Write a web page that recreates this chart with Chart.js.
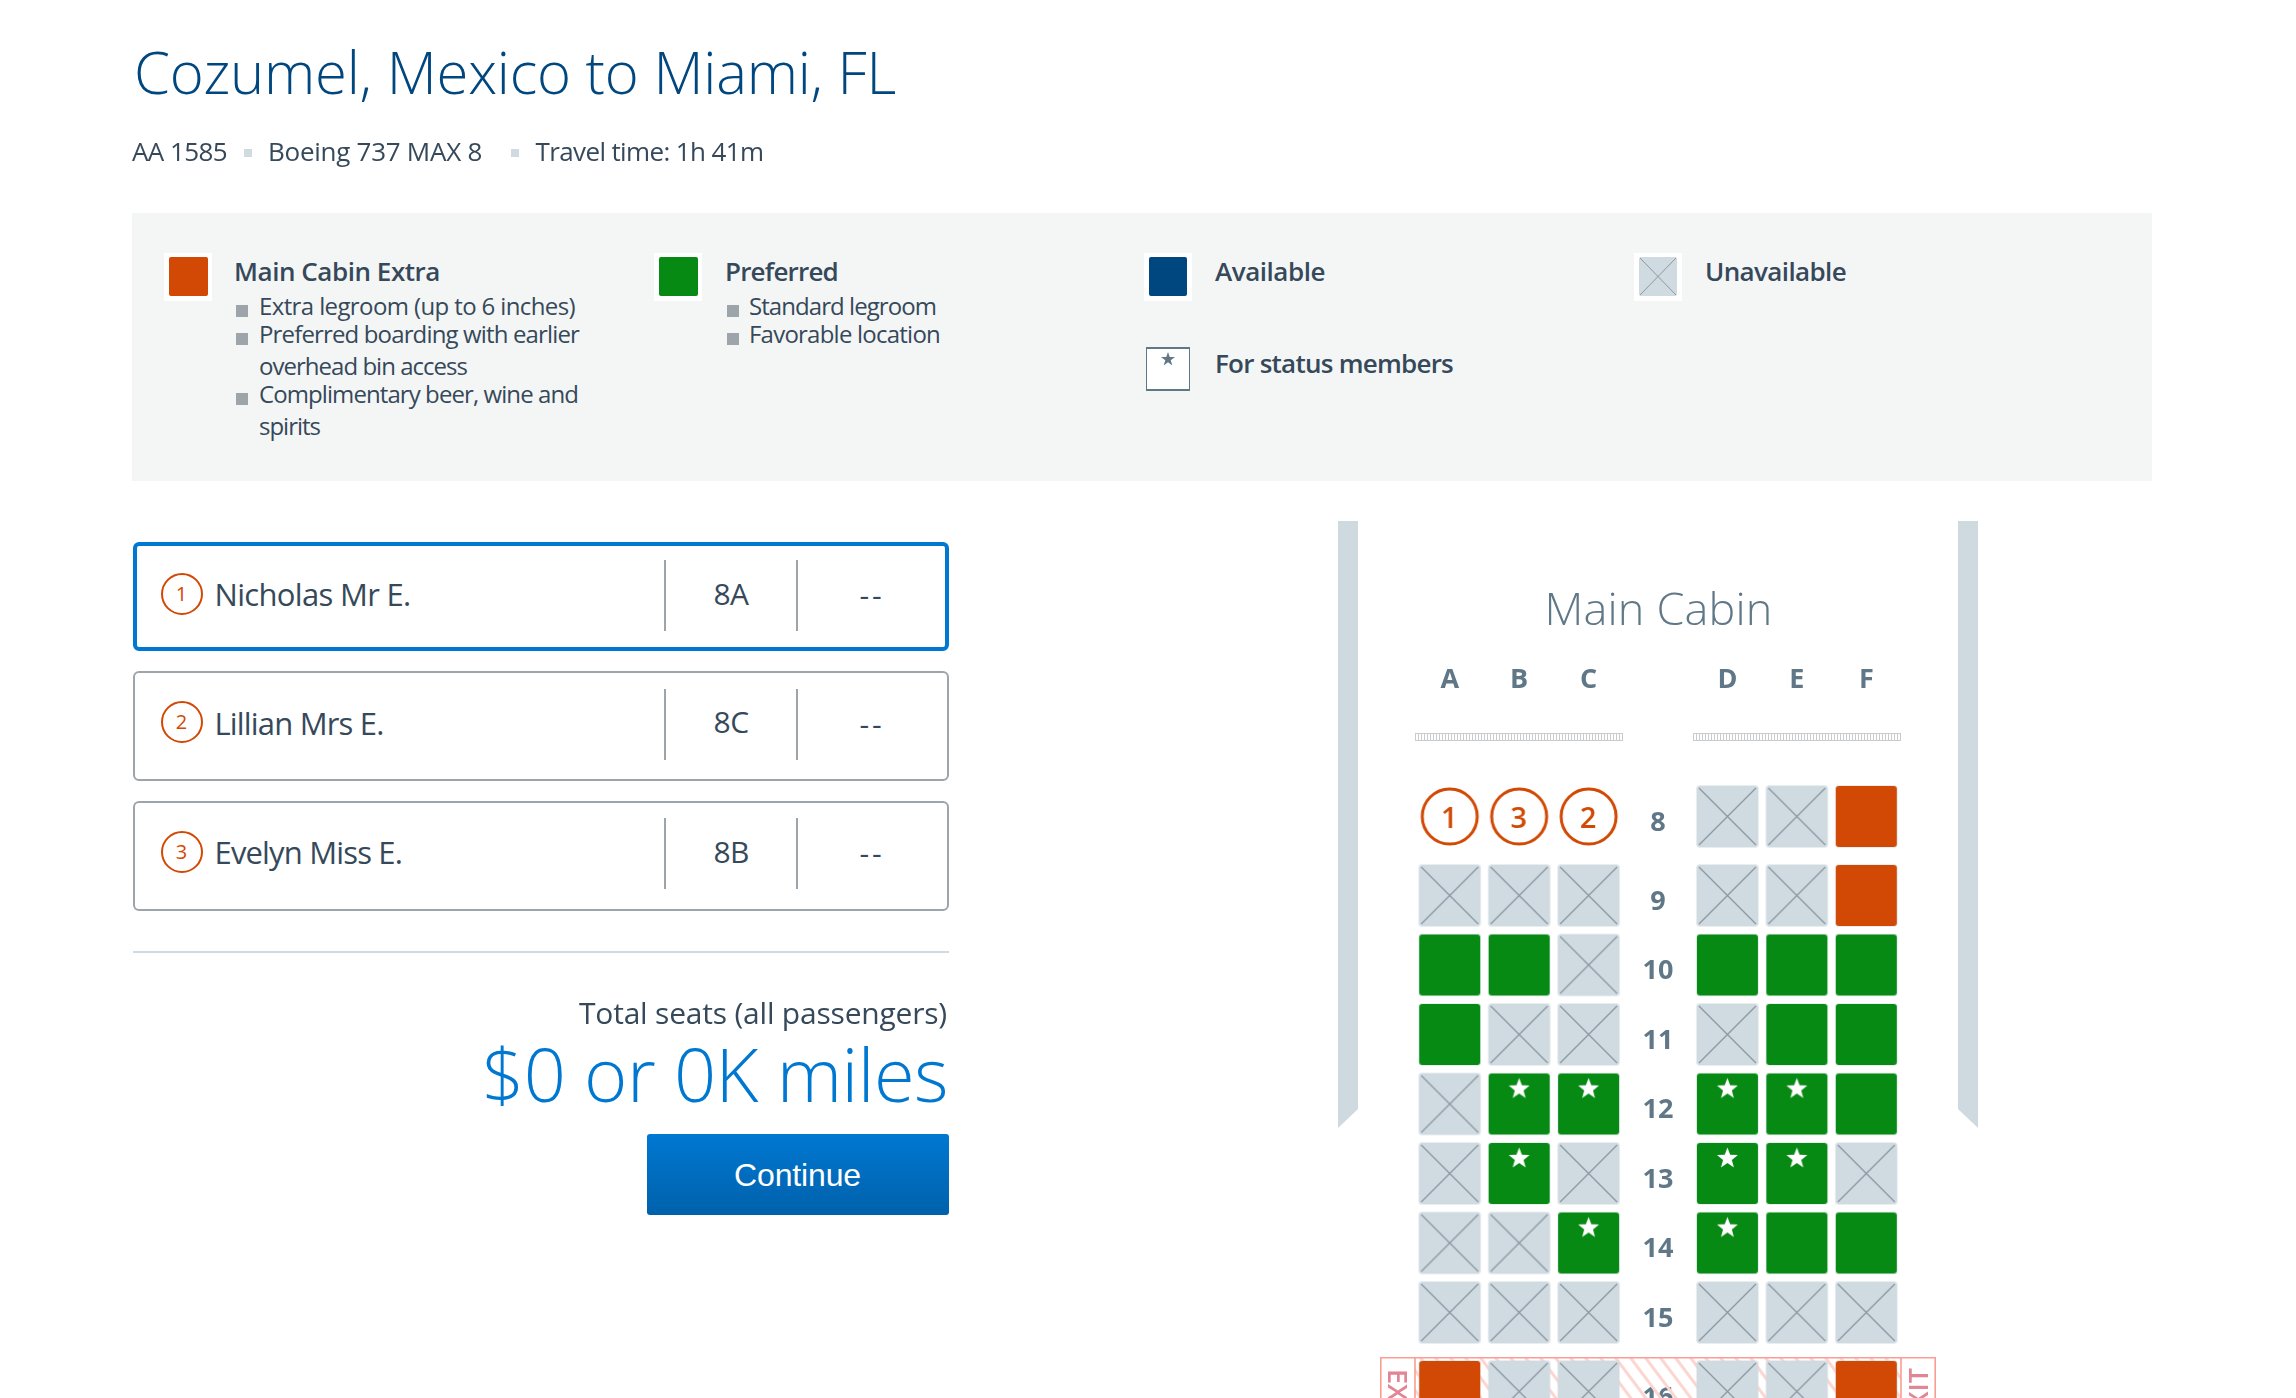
<!DOCTYPE html>
<html><head><meta charset="utf-8">
<style>
html,body{margin:0;padding:0;background:#fff;width:2296px;height:1398px;overflow:hidden}
#stage{position:absolute;left:0;top:0;width:2296px;height:1398px;overflow:hidden}
.t{position:absolute;white-space:pre;margin:0}
.b{position:absolute;box-sizing:border-box}
canvas{position:absolute;left:0;top:0}
</style>
<script src="https://cdn.jsdelivr.net/npm/chart.js@4/dist/chart.umd.js"></script>
</head><body><div id="stage"><canvas id="c" width="2296" height="1398"></canvas></div>
<script>
// ---------- chart data ----------
const cabinName = 'Main Cabin';
const columnLabels = ['A','B','C','','D','E','F'];
const rowLabels = [8,9,10,11,12,13,14,15,16];
// X unavailable, M main cabin extra, P preferred, S preferred for status members, 1-3 selected by passenger
const row8  = ['1','3','2','','X','X','M'];
const row9  = ['X','X','X','','X','X','M'];
const row10 = ['P','P','X','','P','P','P'];
const row11 = ['P','X','X','','X','P','P'];
const row12 = ['X','S','S','','S','S','P'];
const row13 = ['X','S','X','','S','S','X'];
const row14 = ['X','X','S','','S','P','P'];
const row15 = ['X','X','X','','X','X','X'];
const row16 = ['M','X','X','','X','X','M'];
const seatRows = [row8,row9,row10,row11,row12,row13,row14,row15,row16];
const passengers = ['Nicholas Mr E.','Lillian Mrs E.','Evelyn Miss E.'];
const passengerSeats = ['8A','8C','8B'];

// ---------- palette ----------
const ORANGE='#d14904', GREEN='#078a14', NAVY='#00467f', GREY='#d0dae1', XLINE='#8a98a2',
      SLATE='#36495a', STEEL='#5f7787', BLUE='#0078d2', BORDER='#9da5aa';
const FONT='"Open Sans"';

// ---------- page text helpers ----------
const stage=document.getElementById('stage');
const mctx=document.createElement('canvas').getContext('2d');
function text(str,o){
  const fam=o.family||FONT, wt=o.weight||400, fs=o.size;
  mctx.font=`${wt} ${fs}px ${fam}`;
  const m=mctx.measureText(str);
  const A=m.fontBoundingBoxAscent, D=m.fontBoundingBoxDescent;
  const el=document.createElement('div'); el.className='t'; el.textContent=str;
  el.style.font=`${wt} ${fs}px ${fam}`; el.style.lineHeight=(A+D)+'px';
  el.style.color=o.color||SLATE; el.style.top=(o.b-A)+'px';
  let w=m.width;
  if(o.w){ el.style.letterSpacing=((o.w-m.width)/str.length)+'px'; w=o.w; }
  let x=o.x; if(o.center!==undefined) x=o.center-w/2; if(o.right!==undefined) x=o.right-w;
  el.style.left=x+'px';
  stage.appendChild(el);
}
function box(x,y,w,h,css){const d=document.createElement('div');d.className='b';
  d.style.cssText+=`left:${x}px;top:${y}px;width:${w}px;height:${h}px;`+css;stage.appendChild(d);return d;}

// header
text('Cozumel, Mexico to Miami, FL',{x:134,b:94,size:58,weight:300,color:NAVY,w:762});
text('AA 1585',{x:132,b:161,size:26,w:95});
text('Boeing 737 MAX 8',{x:268,b:161,size:26,w:214});
text('Travel time: 1h 41m',{x:535.5,b:161,size:26,w:228});
box(244,149,8,8,'background:'+GREY); box(511,149,8,8,'background:'+GREY);

// legend panel
box(132,213,2020,268,'background:#f4f6f6');
function swatch(x,y,ow,iw,bg){box(x,y,ow,48,'background:#fff');box(x+(ow-iw)/2,y+4,iw,39,'border-radius:2px;background:'+bg);}
swatch(164,253,48,39,ORANGE);
swatch(654,253,48,39,GREEN);
swatch(1144,253,48,38,NAVY);
swatch(1634,253,48,38,GREY);
const xs=document.createElementNS('http://www.w3.org/2000/svg','svg');
xs.setAttribute('style','position:absolute;left:1639px;top:257px');xs.setAttribute('width','38');xs.setAttribute('height','39');
xs.innerHTML=`<path d="M1 1L37 38M37 1L1 38" stroke="${XLINE}" stroke-width="1" fill="none"/>`;stage.appendChild(xs);
box(1146,347,44,44,'background:#fff;border:1px solid '+STEEL+';border-top-width:2px;border-bottom-width:2px');
const st=document.createElementNS('http://www.w3.org/2000/svg','svg');
st.setAttribute('style','position:absolute;left:1161px;top:352px');st.setAttribute('width','14');st.setAttribute('height','14');
st.innerHTML=`<path d="M7 0L8.7 5H14L9.7 8.2L11.3 13.4L7 10.2L2.7 13.4L4.3 8.2L0 5H5.3Z" fill="${STEEL}"/>`;stage.appendChild(st);

text('Main Cabin Extra',{x:234,b:281,size:26,weight:600,w:206});
text('Preferred',{x:725,b:281,size:26,weight:600,w:113});
text('Available',{x:1215,b:281,size:26,weight:600,w:110});
text('Unavailable',{x:1705,b:281,size:26,weight:600,w:141});
text('For status members',{x:1215,b:373,size:26,weight:600,w:238});
const bullets=[[236,305],[236,333],[236,393],[727,305],[727,333]];
bullets.forEach(p=>box(p[0],p[1],12,12,'background:#9da5aa'));
text('Extra legroom (up to 6 inches)',{x:259,b:315,size:24,w:316});
text('Preferred boarding with earlier',{x:259,b:343,size:24,w:320});
text('overhead bin access',{x:259,b:375,size:24,w:208});
text('Complimentary beer, wine and',{x:259,b:403,size:24,w:319});
text('spirits',{x:259,b:435,size:24,w:61});
text('Standard legroom',{x:749,b:315,size:24,w:187});
text('Favorable location',{x:749,b:343,size:24,w:191});

// passenger cards
const cardTop=[541.5,671,801];
const cardH=[109,110,110];
const nameBase=[606,734.5,864];
const nameW=[195,168,186.5];
const seatBase=[605,733,863];
passengers.forEach((name,i)=>{
  const y=cardTop[i], sel=i===0;
  box(133,y,816,cardH[i],`border-radius:6px;background:#fff;border:${sel?4:2}px solid ${sel?BLUE:BORDER}`);
  const lineTop=nameBase[i]-46;
  box(664,lineTop,2,71,'background:'+BORDER); box(796,lineTop,2,71,'background:'+BORDER);
  const cy=nameBase[i]-12.5;
  box(161,cy-21,42,42,`border-radius:50%;border:2px solid ${ORANGE}`);
  text(String(i+1),{center:181.5,b:cy+7,size:20,color:ORANGE});
  text(name,{x:214.5,b:nameBase[i],size:31,w:nameW[i]+1});
  text(passengerSeats[i],{center:731,b:seatBase[i],size:30,w:35});
  text('--',{center:872,b:nameBase[i],size:30,w:25});
});
box(133,950.5,816,2,'background:'+GREY);
text('Total seats (all passengers)',{right:947,b:1024,size:30,w:368});
text('$0 or 0K miles',{right:948,b:1102,size:74,weight:300,color:BLUE,w:466});
box(647,1134,302,81,'border-radius:3px;background:linear-gradient(#0078d2,#0061ab)');
text('Continue',{center:797.5,b:1186,size:32,family:'"Liberation Sans"',color:'#fff',w:127});

// cabin heading
text(cabinName,{center:1658.5,b:625,size:45,weight:300,color:STEEL,w:228});

// ---------- seat icons ----------
const SW=61,SH=61;
function icon(draw){const c=document.createElement('canvas');c.width=SW+4;c.height=SH+4;const g=c.getContext('2d');g.translate(2,2);draw(g);return c;}
function seat(g,fill){g.fillStyle='rgba(208,218,225,.45)';g.beginPath();g.roundRect(-1,-1,SW+2,SH+2,4);g.fill();
  g.fillStyle=fill;g.beginPath();g.roundRect(0,0,SW,SH,3);g.fill();}
function star(g,cx,cy,R,fill){g.fillStyle=fill;g.beginPath();
  for(let i=0;i<10;i++){const r=i%2?R*0.42:R,a=-Math.PI/2+i*Math.PI/5;
    g[i?'lineTo':'moveTo'](cx+r*Math.cos(a),cy+r*Math.sin(a));}
  g.closePath();g.fill();}
const icons={
  M:icon(g=>seat(g,ORANGE)),
  P:icon(g=>seat(g,GREEN)),
  S:icon(g=>{seat(g,GREEN);star(g,SW/2,15.5,11,'#fff');}),
  X:icon(g=>{seat(g,GREY);g.strokeStyle=XLINE;g.lineWidth=1.3;g.beginPath();
    g.moveTo(2,2);g.lineTo(SW-2,SH-2);g.moveTo(SW-2,2);g.lineTo(2,SH-2);g.stroke();})
};
function circleIcon(n){return icon(g=>{
  g.strokeStyle=ORANGE;g.lineWidth=3;g.beginPath();g.arc(SW/2,SH/2,27.5,0,Math.PI*2);g.stroke();
  g.fillStyle=ORANGE;g.font=`600 29px ${FONT}`;g.textAlign='center';g.textBaseline='alphabetic';g.fillText(n,SW/2-.5,SH/2+11);
});}
['1','2','3'].forEach(n=>icons[n]=circleIcon(n));

// ---------- datasets ----------
function pointsOf(codes){const out=[];
  seatRows.forEach((r,ri)=>r.forEach((code,ci)=>{if(codes.includes(code))out.push({x:columnLabels[ci],y:rowLabels[ri],code});}));
  return out;}
const SEAT_GROUPS=[['Unavailable',['X']],['Main Cabin Extra',['M']],['Preferred',['P']],['For status members',['S']],['Selected',['1','2','3']]];
const datasets=SEAT_GROUPS.map(([label,codes])=>({label,data:pointsOf(codes),showLine:false,clip:false,
  pointRadius:30,pointHoverRadius:30,pointStyle:c=>icons[c.raw.code]}));

// ---------- cabin row scale: extra legroom gaps before the first row and the exit row ----------
const ROW_PX=69.5, ROW_GAP=9.5, TOP_PX=756.5, LEFT_PX=1415, RIGHT_PX=1901, AXIS_H=100;
class CabinScale extends Chart.LinearScale{
  getPixelForValue(v){const p=super.getPixelForValue(v);
    return p+(v<9?-ROW_GAP:0)+(v>=16?ROW_GAP:0);}
  getPadding(){return {left:0,top:0,right:0,bottom:0};}
  _handleMargins(){}
  _computeLabelArea(){return undefined;}
  _computeLabelItems(area){
    const items=super._computeLabelItems(area);
    const aisle=(this.chart.chartArea.left+this.chart.chartArea.right)/2;
    items.forEach(it=>{it.options.textAlign='center';it.options.translation=[aisle,it.options.translation[1]+6.5];});
    return items;}
}
CabinScale.id='cabin'; CabinScale.defaults=Chart.LinearScale.defaults;
Chart.register(CabinScale);

// ---------- cabin furniture ----------
const cabinFurniture={id:'cabinFurniture',beforeDatasetsDraw(ch){
  const g=ch.ctx;g.save();
  // fuselage walls
  g.fillStyle='#cfd9e0';
  g.beginPath();g.moveTo(1338,521);g.lineTo(1358,521);g.lineTo(1358,1109);g.lineTo(1338,1128);g.closePath();g.fill();
  g.beginPath();g.moveTo(1958,521);g.lineTo(1978,521);g.lineTo(1978,1128);g.lineTo(1958,1109);g.closePath();g.fill();
  // galley partitions
  [[1415,208],[1693,208]].forEach(([x,w])=>{
    g.fillStyle='#fff';g.fillRect(x,733,w,8);
    g.strokeStyle='#c9cccf';g.lineWidth=1;g.strokeRect(x+.5,733.5,w-1,7);
    g.beginPath();for(let i=x+3;i<x+w-1;i+=3){g.moveTo(i+.5,734);g.lineTo(i+.5,740);}g.stroke();
  });
  // exit row
  g.save();g.beginPath();g.rect(1415,1357,486,60);g.clip();
  g.strokeStyle='#fcd6d1';g.lineWidth=3;g.beginPath();
  for(let i=1300;i<1960;i+=15){g.moveTo(i,1357);g.lineTo(i+45,1417);}g.stroke();g.restore();
  g.strokeStyle='#fb9d93';g.lineWidth=1.6;
  g.beginPath();g.moveTo(1380.8,1400);g.lineTo(1380.8,1357.8);g.lineTo(1935.2,1357.8);g.lineTo(1935.2,1400);
  g.moveTo(1415,1357.8);g.lineTo(1415,1400);g.moveTo(1901,1357.8);g.lineTo(1901,1400);g.stroke();
  g.fillStyle='#e28595';g.font=`600 27px ${FONT}`;g.textAlign='left';g.textBaseline='alphabetic';
  g.save();g.translate(1388,1369);g.rotate(Math.PI/2);g.fillText('EXIT',0,0);g.restore();
  g.save();g.translate(1928,1368);g.rotate(-Math.PI/2);g.textAlign='right';g.fillText('EXIT',0,0);g.restore();
  g.restore();
}};

// ---------- chart ----------
new Chart(document.getElementById('c'),{
  type:'scatter',
  data:{datasets},
  plugins:[cabinFurniture],
  options:{
    responsive:false,animation:false,devicePixelRatio:1,
    events:[],
    layout:{autoPadding:false,padding:{left:LEFT_PX,right:2296-RIGHT_PX,top:TOP_PX-AXIS_H,bottom:0}},
    plugins:{legend:{display:false},tooltip:{enabled:false}},
    scales:{
      x:{type:'category',labels:columnLabels,position:'top',offset:true,
        grid:{display:false,drawTicks:false},border:{display:false},
        afterFit(s){s.height=AXIS_H;},
        ticks:{color:STEEL,padding:60,autoSkip:false,maxRotation:0,font:{family:'Open Sans',size:27,weight:'700'}}},
      y:{type:'cabin',position:'left',reverse:true,min:7,max:7+(1398-TOP_PX)/ROW_PX,
        grid:{display:false,drawTicks:false},border:{display:false},
        afterFit(s){s.width=0;},
        afterBuildTicks(s){s.ticks=rowLabels.map(v=>({value:v}));},
        ticks:{color:STEEL,padding:0,autoSkip:false,font:{family:'Open Sans',size:27,weight:'700'},
          callback:v=>String(v)}}
    }
  }
});
</script></body></html>
